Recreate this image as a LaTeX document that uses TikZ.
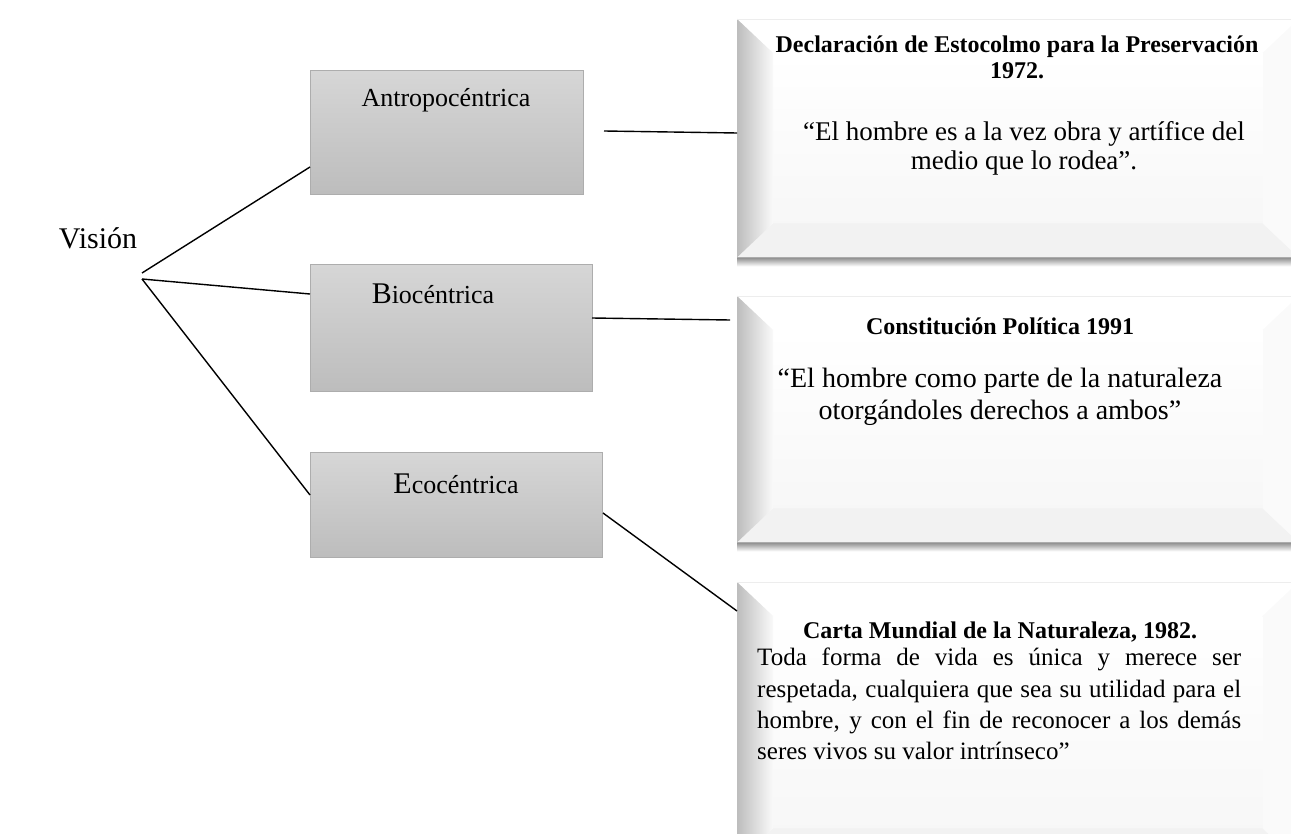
\documentclass[tikz,border=0pt]{standalone}
\usepackage{fontspec}
\setmainfont{Liberation Serif}
\usetikzlibrary{calc}
\tikzset{
  lbox/.style={rectangle, draw=black!32, line width=1pt, top color=black!16, bottom color=black!26, anchor=north west, inner sep=0pt},
  rbox/.style={rectangle, draw=none, anchor=north west, inner sep=0pt, minimum width=561},
  conn/.style={draw=black, line width=1.4pt},
  lbl/.style={anchor=base, inner sep=0pt, font=\fontsize{26}{30}\selectfont},
}
\newcommand\bevel[1]{%
  \shade[top color=black!45, bottom color=white] (#1.south west) rectangle ($(#1.south east)+(0,9)$);
  \fill[black!2] (#1.north west) rectangle (#1.south east);
  \shade[top color=white, bottom color=black!3] ($(#1.north west)+(36,34)$) rectangle ($(#1.south east)+(-36,-34)$);
  \fill[white] (#1.north west) -- (#1.north east) -- ($(#1.north east)+(-36,34)$) -- ($(#1.north west)+(36,34)$) -- cycle;
  \fill[black!5] (#1.south west) -- (#1.south east) -- ($(#1.south east)+(-36,-34)$) -- ($(#1.south west)+(36,-34)$) -- cycle;
  \shade[left color=black!26, right color=black!2] (#1.north west) -- ($(#1.north west)+(36,34)$) -- ($(#1.south west)+(36,-34)$) -- (#1.south west) -- cycle;
  \draw[black!7, line width=0.8pt] (#1.north west) -- (#1.north east);
}
\begin{document}
\begin{tikzpicture}[x=1pt,y=-1pt]
\useasboundingbox (0,0) rectangle (1291,834);
\clip (0,0) rectangle (1291,834);
\fill[white] (0,0) rectangle (1291,834);

% right bevel boxes
\node[rbox, minimum height=238] (r1) at (737,19) {};
\node[rbox, minimum height=246] (r2) at (737,296) {};
\node[rbox, minimum height=280] (r3) at (737,582) {};
\bevel{r1}
\bevel{r2}
\bevel{r3}

% left boxes
\node[lbox, minimum width=273, minimum height=124] (antro) at (310,70) {};
\node[lbox, minimum width=282, minimum height=127] (bio) at (310,264) {};
\node[lbox, minimum width=292, minimum height=105] (eco) at (310,452) {};

\node[lbl] (antrot) at (446,107) {Antropocéntrica};
\node[lbl] (biot) at (433,304) {{\fontsize{30}{30}\selectfont B}iocéntrica};
\node[lbl] (ecot) at (456,493) {{\fontsize{30}{30}\selectfont E}cocéntrica};

\node[anchor=base, inner sep=0pt, font=\fontsize{30}{32}\selectfont] (vision) at (98,249) {Visión};

% texts in right boxes
\node[anchor=base, inner sep=0pt, align=center, font=\fontsize{24}{26}\bfseries\selectfont] (t1) at (1017,79) {Declaración de Estocolmo para la Preservación\\1972.};
\node[anchor=base, inner sep=0pt, align=center, font=\fontsize{27}{29.5}\selectfont] (q1) at (1024,170) {“El hombre es a la vez obra y artífice del\\medio que lo rodea”.};

\node[anchor=base, inner sep=0pt, font=\fontsize{24}{26}\bfseries\selectfont] (t2) at (1000,335) {Constitución Política 1991};
\node[anchor=base, inner sep=0pt, align=center, font=\fontsize{28}{32}\selectfont] (q2) at (1000,419) {“El hombre como parte de la naturaleza\\otorgándoles derechos a ambos”};

\node[anchor=base, inner sep=0pt, font=\fontsize{24}{26}\bfseries\selectfont] (t3) at (1000,638) {Carta Mundial de la Naturaleza, 1982.};
\node[anchor=north west, inner sep=0pt] (q3) at (757,648) {\parbox[t]{484pt}{\fontsize{25}{31.3}\selectfont\tolerance=10000 Toda forma de vida es única y merece ser\linebreak respetada, cualquiera que sea su utilidad para el\linebreak hombre, y con el fin de reconocer a los demás\linebreak seres vivos su valor intrínseco”}};

% connectors
\coordinate (v1) at (142,273);
\coordinate (v2) at (142,279);
\coordinate (antroin) at (310,167);
\coordinate (bioin) at (310,294);
\coordinate (ecoin) at (310,495);
\coordinate (antroout) at (604,131);
\coordinate (r1in) at (737,133);
\coordinate (bioout) at (592,318);
\coordinate (r2in) at (730,320);
\coordinate (ecoout) at (603,513);
\coordinate (r3in) at (737,611);
\draw[conn] (v1) -- (antroin);
\draw[conn] (v2) -- (bioin);
\draw[conn] (v2) -- (ecoin);
\draw[conn] (antroout) -- (r1in);
\draw[conn] (bioout) -- (r2in);
\draw[conn] (ecoout) -- (r3in);
\end{tikzpicture}
\end{document}
